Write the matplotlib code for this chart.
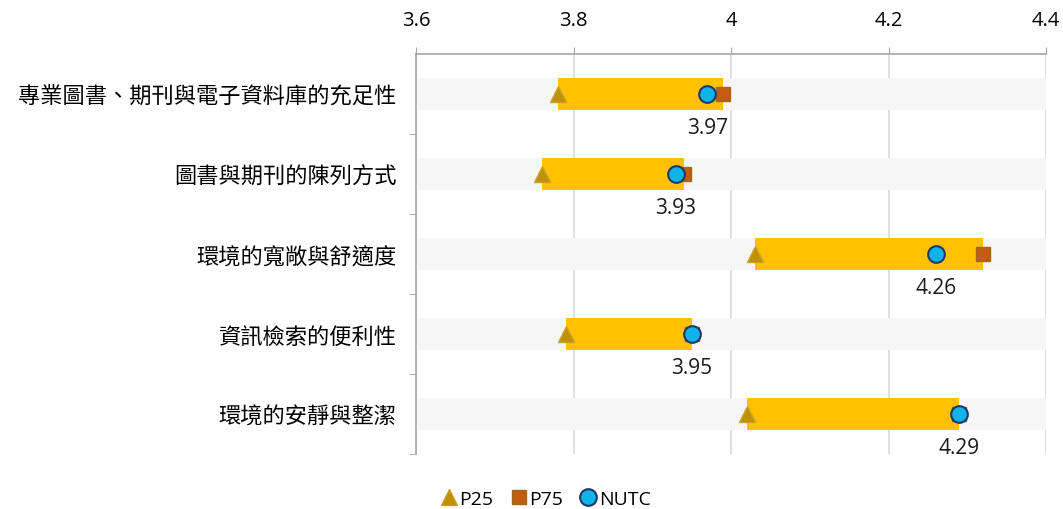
import matplotlib.pyplot as plt
import numpy as np
from matplotlib.lines import Line2D

plt.rcParams['font.family'] = ['Open Sans', 'Noto Sans CJK TC', 'DejaVu Sans']

categories = ['專業圖書、期刊與電子資料庫的充足性', '圖書與期刊的陳列方式',
              '環境的寬敞與舒適度', '資訊檢索的便利性', '環境的安靜與整潔']
p25 = [3.78, 3.76, 4.03, 3.79, 4.02]
p75 = [3.99, 3.94, 4.32, 3.95, 4.29]
nutc = [3.97, 3.93, 4.26, 3.95, 4.29]
xticks = [3.6, 3.8, 4.0, 4.2, 4.4]
xticklabels = ['3.6', '3.8', '4', '4.2', '4.4']

fig = plt.figure(figsize=(10.63, 5.10), dpi=100)
ax = fig.add_axes([416/1063, 55/510, (1046-416)/1063, 400/510])

y = np.arange(len(categories))
h = 0.41

# grey background bands, then the P25-P75 bar
ax.barh(y, 4.4 - 3.6, left=3.6, height=h, color='#f6f6f6', zorder=2)
ax.barh(y, np.array(p75) - np.array(p25), left=p25, height=h,
        color='#ffc000', zorder=3)

ax.plot(p25, y, '^', ms=11, color='#bf9000', mec='#c9a227', zorder=4)
ax.plot(p75, y, 's', ms=10, color='#c55a11', mec='#9c6a1a', zorder=4)
ax.plot(nutc, y, 'o', ms=12, color='#10b4ea', mec='#1f3864', mew=1.5, zorder=5)

for yi, v in zip(y, nutc):
    ax.text(v, yi + 0.42, f'{v:.2f}', ha='center', va='center',
            fontsize=15, color='#1a1a1a')

ax.set_xlim(3.6, 4.4)
ax.set_ylim(4.5, -0.5)
ax.xaxis.tick_top()
ax.set_xticks(xticks)
ax.set_xticklabels(xticklabels, fontsize=14.5)
ax.tick_params(axis='x', length=5, color='#a6a6a6', pad=12)
ax.set_yticks(y)
ax.set_yticklabels(categories, fontsize=16, family=['Noto Sans CJK TC', 'DejaVu Sans'])
ax.tick_params(axis='y', which='major', length=0, pad=14)
ax.set_yticks(np.arange(0.5, 5.0, 1.0), minor=True)
ax.tick_params(axis='y', which='minor', length=5, color='#a6a6a6')
ax.grid(axis='x', color='#d9d9d9', lw=1.2, zorder=0)
ax.set_axisbelow(True)

for s in ['right', 'bottom']:
    ax.spines[s].set_visible(False)
ax.spines['top'].set_color('#a6a6a6')
ax.spines['left'].set_color('#a6a6a6')
ax.spines['top'].set_linewidth(1.2)
ax.spines['left'].set_linewidth(1.2)

handles = [
    Line2D([], [], marker='^', ls='', ms=11, color='#bf9000', mec='#c9a227'),
    Line2D([], [], marker='s', ls='', ms=10, color='#c55a11', mec='#9c6a1a'),
    Line2D([], [], marker='o', ls='', ms=12, color='#10b4ea', mec='#1f3864', mew=1.5),
]
fig.legend(handles, ['P25', 'P75', 'NUTC'], loc='center', ncol=3,
           bbox_to_anchor=(545/1063, 1 - 500/510), frameon=False, fontsize=14,
           handletextpad=0.05, columnspacing=0.8, handlelength=1.0)

fig.savefig('out.png', dpi=100)
